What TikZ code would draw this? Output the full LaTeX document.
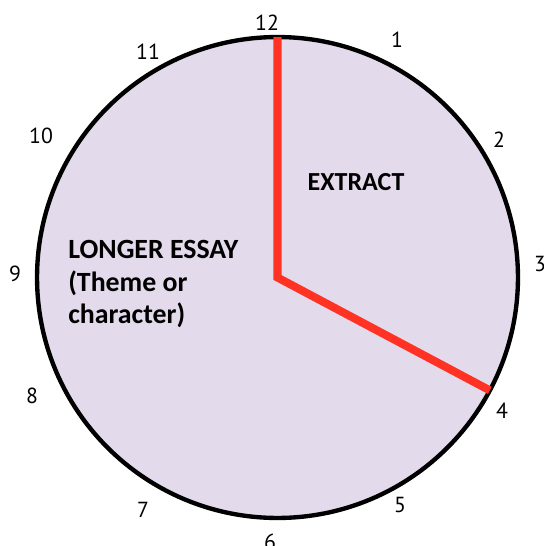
\documentclass[tikz,border=0pt]{standalone}
\usepackage{fontspec}
\setmainfont{Carlito}
\newfontfamily\dialfont{PT Sans}
\usetikzlibrary{positioning}
\definecolor{facefill}{RGB}{227,218,235}
\definecolor{handred}{RGB}{255,50,35}
\tikzset{
  clockface/.style={circle, draw=black, line width=3.1pt, fill=facefill, minimum size=12.02cm, inner sep=0pt, outer sep=0pt},
  clockhand/.style={draw=handred, line width=5.7pt, line join=miter},
  dialnum/.style={font=\dialfont\fontsize{15.5}{15.5}\selectfont, inner sep=0pt},
  zonelabel/.style={font=\fontsize{18.5}{23.1}\selectfont\bfseries, align=left, inner sep=0pt}
}

\begin{document}
\begin{tikzpicture}[x=0.025cm, y=-0.025cm]
\useasboundingbox (0,0) rectangle (544,546);
\node[clockface] (face) at (277.5,277.5) {};

\draw[clockhand] (face.north) -- (face.center) -- (face.-28);

\node[dialnum] (n12) at (267,23) {12};
\node[dialnum] (n1) at (397,40) {1};
\node[dialnum] (n2) at (499,140) {2};
\node[dialnum] (n3) at (540,264) {3};
\node[dialnum] (n4) at (502,411) {4};
\node[dialnum] (n5) at (400,505) {5};
\node[dialnum] (n6) at (270,542) {6};
\node[dialnum] (n7) at (143,510) {7};
\node[dialnum] (n8) at (32,396) {8};
\node[dialnum] (n9) at (15,274) {9};
\node[dialnum] (n10) at (41,136) {10};
\node[dialnum] (n11) at (148,52) {11};

\node[zonelabel] (extract) at (356,182) {EXTRACT};
\node[zonelabel, anchor=north west, font=\fontsize{19.8}{23.1}\selectfont\bfseries] (essay) at (68,240) {LONGER ESSAY\\(Theme or\\character)};
\end{tikzpicture}
\end{document}
